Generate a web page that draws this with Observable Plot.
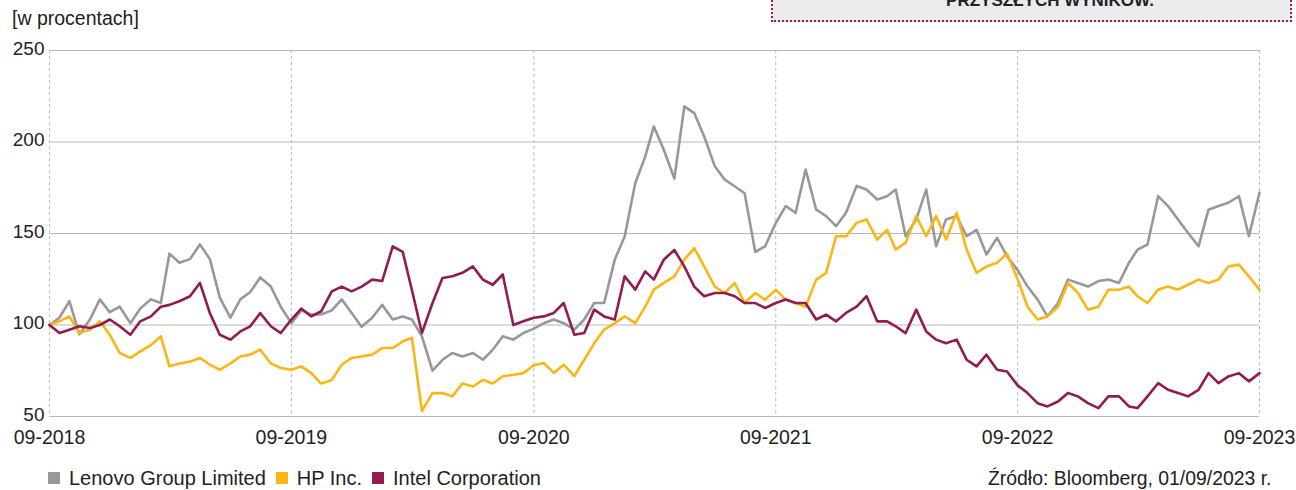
<!DOCTYPE html>
<html><head><meta charset="utf-8">
<script src="https://cdn.jsdelivr.net/npm/d3@7"></script>
<script src="https://cdn.jsdelivr.net/npm/@observablehq/plot@0.6"></script>
<style>
html,body{margin:0;padding:0;background:#fff;width:1296px;height:490px;overflow:hidden;position:relative;font-family:"Liberation Sans",Arial,sans-serif;color:#222;}
#chart{position:absolute;left:0;top:0;}
.lbl{position:absolute;white-space:nowrap;}
#legend{position:absolute;left:48px;top:468px;display:flex;align-items:center;font-size:20px;line-height:20px;}
#legend .sw{width:12px;height:12px;display:inline-block;margin-right:9px;}
#legend .it{display:flex;align-items:center;margin-right:10px;}
#box{position:absolute;left:771px;top:-12px;width:517px;height:32px;background:#ebebed;border-left:2px dotted #9b1b4f;border-right:2px dotted #9b1b4f;border-bottom:2px dotted #9b1b4f;}
#boxtxt{position:absolute;left:850px;top:-8px;width:400px;text-align:center;font-weight:bold;font-size:17px;line-height:17px;color:#222;}
</style></head>
<body>
<div id="box"></div>
<div id="boxtxt">PRZYSZŁYCH WYNIKÓW.</div>
<div class="lbl" style="left:12px;top:7px;font-size:19.5px;">[w procentach]</div>
<div id="chart"></div>
<div id="legend"></div>
<div class="lbl" style="left:988px;top:468px;font-size:19.4px;line-height:20px;">Źródło: Bloomberg, 01/09/2023 r.</div>
<script>
const seriesNames = ["Lenovo Group Limited", "HP Inc.", "Intel Corporation"];
const seriesColors = ["#97989b", "#fcb614", "#921c4f"];
const tickLabels = ["09-2018", "09-2019", "09-2020", "09-2021", "09-2022", "09-2023"];
const yTicks = [50, 100, 150, 200, 250];
// values sampled twice a month (1st and 16th), from 09-2018 to 09-2023
const lenovo = [
100,104,113,95,103,114,107,110,101,109,114,112,139,134,136,144,136,115,104,114,118,126,121,110,101,
108,105.7,105.7,108,114,106.5,99,104,111,103,104.7,103,93.8,75,81,84.7,82.8,84.7,81,86.5,93.8,92,95.6,98,
101,103,101,97.5,103,112,112,135.7,148.4,177.6,192,208.5,195.8,180,219.5,215.8,203,186.7,179.4,175.8,172,140,143,155.7,
165,161.3,185,163,159.5,154,161.3,176,174,168.6,170.4,174,148.5,157.7,174,143,157.7,159.5,148.5,152,138.5,147.6,137.6,130,
121,114,104.7,112,124.8,123,121,124,124.8,123,134,141.2,144,170.4,165,157.7,150.4,143,163,165,166.8,170.4,148.5,172.3];
const hp = [
100,102,104.7,95.6,97.4,102,94.7,84.7,82,85.6,89,93.8,77.4,79,80,82,78.3,75.5,79,82.8,83.8,86.5,79,76.5,75.5,
77.4,73.7,68,70,78.3,82,82.8,83.8,87.4,87.4,91,93,53,62.8,62.8,61,68,66.4,70,68,72,72.8,73.7,78,
79.2,73.8,78.3,72,81,90,97.5,101,104.7,101,110,119.3,123,126.6,135.7,142,132,121,117.5,123,112,117.5,113.8,119.3,
113.9,112,110,124.8,128.5,148.5,148.5,155.8,157.7,146.7,152,141.2,145,159.5,148.5,159.5,146.7,161.3,141.2,128.5,132,134,139,125,
110,103,104.7,110,123,117.5,108.4,110,119.3,119.3,121,115.7,112,119.3,121,119.3,122,124.8,123,124.8,132,133,126.6,119.3];
const intel = [
100,95.6,97.4,99.3,98.4,100,103,99.3,94.7,102,104.7,110,111,113,115.7,123,106.5,94.7,92,96.5,99.3,106.5,99.3,95.6,103,
109,104.7,107.5,118.4,121,118.4,121,124.8,124,143,140,119,95.6,112,125.7,126.6,128.5,132,124.8,122,127.6,100,102,104,
104.7,106.6,112,94.7,95.6,108.4,104.7,103,126.6,119.3,129.3,124.8,135.7,141,132,121,115.7,117.5,117.5,115.7,112,112,109.3,112,
113.9,112,112,103,105.7,102,106.6,110,115.7,102,102,99.3,95.6,108.4,96.5,92,90,92,81,77.4,83.8,75.5,74.6,67,
62.8,57.3,55.5,58.2,62.8,61,57.3,54.6,61,61,55.5,54.6,61,68.2,64.6,62.8,61,64.6,73.7,68.2,71.9,73.7,69.2,73.7];

const parseTick = d3.utcParse("%m-%Y");
const tickDates = tickLabels.map(parseTick);
const dateAt = i => d3.utcDay.offset(d3.utcMonth.offset(tickDates[0], Math.floor(i / 2)), (i % 2) * 15);
const rows = [];
[lenovo, hp, intel].forEach((arr, s) => arr.forEach((v, i) => rows.push({date: dateAt(i), value: v, name: seriesNames[s]})));

const chart = Plot.plot({
  width: 1296, height: 490,
  marginTop: 50, marginBottom: 74, marginLeft: 49, marginRight: 37,
  style: {fontFamily: '"Liberation Sans",Arial,sans-serif', fontSize: "19.5px", color: "#222", background: "transparent"},
  x: {type: "utc", domain: [tickDates[0], tickDates[tickDates.length - 1]], label: null},
  y: {domain: [50, 250], label: null},
  color: {domain: seriesNames, range: seriesColors},
  marks: [
    Plot.gridX(tickDates, {stroke: "#b9b9b9", strokeOpacity: 1, strokeDasharray: "3,3"}),
    Plot.gridY(yTicks.slice(1), {stroke: "#b9b9b9", strokeOpacity: 1}),
    Plot.ruleY([yTicks[0]], {stroke: "#b9b9b9"}),
    Plot.line(rows, {x: "date", y: "value", z: "name", stroke: "name", strokeWidth: 2.6, strokeLinejoin: "round"}),
    Plot.axisX(tickDates, {tickSize: 0, tickPadding: 14, tickFormat: (d, i) => tickLabels[i], fontSize: 19.5, label: null}),
    Plot.axisY(yTicks, {tickSize: 0, tickPadding: 5, fontSize: 19, dy: -2, label: null})
  ]
});
document.getElementById("chart").appendChild(chart);

const legend = document.getElementById("legend");
seriesNames.forEach((n, i) => {
  const it = document.createElement("div"); it.className = "it";
  const sw = document.createElement("span"); sw.className = "sw"; sw.style.background = seriesColors[i];
  it.appendChild(sw); it.appendChild(document.createTextNode(n));
  legend.appendChild(it);
});
</script>
</body></html>
